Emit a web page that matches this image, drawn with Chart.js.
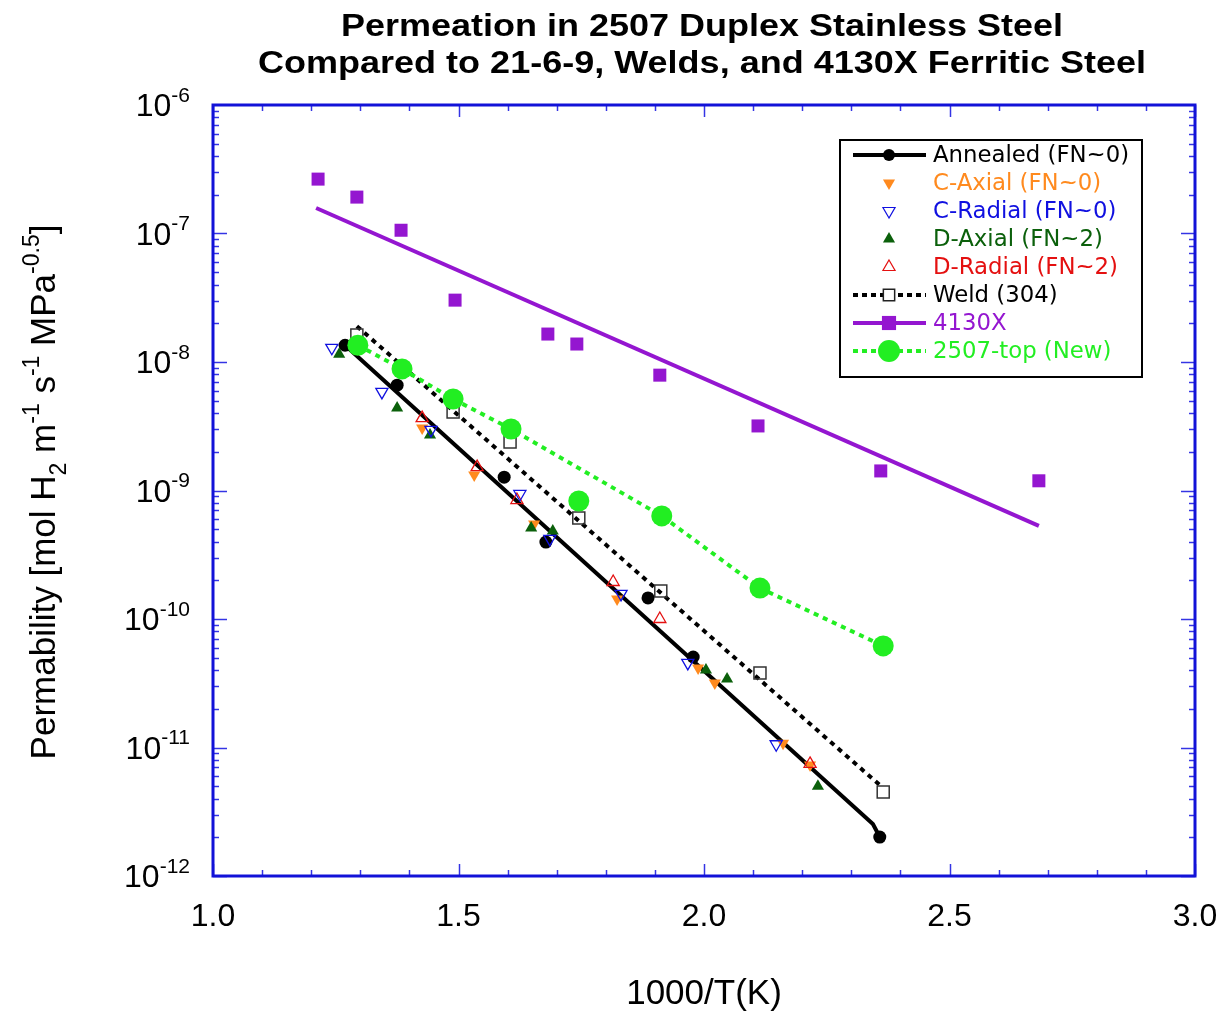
<!DOCTYPE html>
<html>
<head>
<meta charset="utf-8">
<script src="https://cdn.jsdelivr.net/npm/chart.js@4.4.1/dist/chart.umd.min.js"></script>
<style>
  html, body { margin:0; padding:0; background:#fff; }
  #c { display:block; }
</style>
</head>
<body>
<canvas id="c" width="1230" height="1011"></canvas>
<script>
// values (x = 1000/T, y = permeability)
const annealedX = [1.269, 1.375, 1.593, 1.678, 1.886, 1.978, 2.358];
const annealedY = [1.35e-8, 6.6e-9, 1.27e-9, 3.97e-10, 1.46e-10, 5.06e-11, 2.01e-12];
const annealedFitX = [1.269, 2.344, 2.358];
const annealedFitY = [1.35e-8, 2.54e-12, 2.01e-12];

const cAxialX = [1.426, 1.532, 1.654, 1.823, 1.988, 2.022, 2.161, 2.216];
const cAxialY = [3.06e-9, 1.32e-9, 5.48e-10, 1.43e-10, 4.16e-11, 3.18e-11, 1.08e-11, 7.3e-12];

const cRadialX = [1.242, 1.344, 1.444, 1.625, 1.686, 1.831, 1.967, 2.147];
const cRadialY = [1.29e-8, 5.85e-9, 2.96e-9, 9.4e-10, 4.2e-10, 1.57e-10, 4.55e-11, 1.06e-11];

const dAxialX = [1.257, 1.375, 1.442, 1.648, 1.692, 2.004, 2.047, 2.232];
const dAxialY = [1.15e-8, 4.39e-9, 2.70e-9, 5.1e-10, 4.84e-10, 4.01e-11, 3.41e-11, 5.0e-12];

const dRadialX = [1.426, 1.538, 1.619, 1.815, 1.910, 2.216];
const dRadialY = [3.66e-9, 1.52e-9, 8.43e-10, 1.94e-10, 1.0e-10, 7.45e-12];

const weldX = [1.293, 1.489, 1.605, 1.745, 1.912, 2.114, 2.365];
const weldY = [1.62e-8, 4.08e-9, 2.38e-9, 6.1e-10, 1.65e-10, 3.8e-11, 4.5e-12];
const weldFitX = [1.293, 2.358];
const weldFitY = [1.9e-8, 5.1e-12];

const steel4130X = [1.214, 1.293, 1.383, 1.493, 1.682, 1.741, 1.910, 2.110, 2.360, 2.682];
const steel4130Y = [2.65e-7, 1.92e-7, 1.06e-7, 3.03e-8, 1.65e-8, 1.38e-8, 7.9e-9, 3.18e-9, 1.42e-9, 1.19e-9];
const steel4130FitX = [1.210, 2.682];
const steel4130FitY = [1.58e-7, 5.3e-10];

const duplexX = [1.295, 1.385, 1.489, 1.607, 1.745, 1.914, 2.114, 2.365];
const duplexY = [1.35e-8, 8.83e-9, 5.15e-9, 3.01e-9, 8.28e-10, 6.34e-10, 1.74e-10, 6.17e-11];
const duplexLineX = [1.295, 1.385, 1.489, 1.607, 1.914, 2.114, 2.365];
const duplexLineY = [1.35e-8, 8.83e-9, 5.15e-9, 3.01e-9, 6.34e-10, 1.74e-10, 6.17e-11];

const xTickValues = [1.0, 1.5, 2.0, 2.5, 3.0];
const xTickLabels = ['1.0', '1.5', '2.0', '2.5', '3.0'];
const yDecades = [-6, -7, -8, -9, -10, -11, -12];

const titleLines = ['Permeation in 2507 Duplex Stainless Steel',
                    'Compared to 21-6-9, Welds, and 4130X Ferritic Steel'];

function pts(xs, ys) { return xs.map((x, i) => ({ x: x, y: ys[i] })); }

const BLUE_AXIS = '#1212d8';
const ORANGE = '#ff8a1e', CBLUE = '#1010e0', DGREEN = '#0b600b', RED = '#e41010';
const PURPLE = '#9416d0', LGREEN = '#22ee22';

const datasets = [
  // lines (bottom)
  { label:'4130X fit', data: pts(steel4130FitX, steel4130FitY), showLine:true, pointRadius:0,
    borderColor:PURPLE, borderWidth:4, order:9 },
  { label:'Annealed fit', data: pts(annealedFitX, annealedFitY), showLine:true, pointRadius:0,
    borderColor:'#000', borderWidth:4, order:8 },
  { label:'Weld fit', data: pts(weldFitX, weldFitY), showLine:true, pointRadius:0,
    borderColor:'#000', borderWidth:4, borderDash:[5,5], order:7 },
  { label:'2507 line', data: pts(duplexLineX, duplexLineY), showLine:true, pointRadius:0,
    borderColor:LGREEN, borderWidth:4, borderDash:[5,5], order:6 },
  // markers
  { label:'4130X', data: pts(steel4130X, steel4130Y), pointStyle:'rect', pointRadius:9.2,
    backgroundColor:PURPLE, borderColor:PURPLE, borderWidth:0, order:5 },
  { label:'Weld (304)', data: pts(weldX, weldY), pointStyle:'rect', pointRadius:8.5,
    backgroundColor:'rgba(0,0,0,0)', borderColor:'#333', borderWidth:1.5, order:5 },
  { label:'Annealed (FN~0)', data: pts(annealedX, annealedY), pointStyle:'circle', pointRadius:6.5,
    backgroundColor:'#000', borderColor:'#000', borderWidth:0, order:4 },
  { label:'D-Axial (FN~2)', data: pts(dAxialX, dAxialY), pointStyle:'triangle', pointRadius:7,
    backgroundColor:DGREEN, borderColor:DGREEN, borderWidth:0, order:3 },
  { label:'C-Axial (FN~0)', data: pts(cAxialX, cAxialY), pointStyle:'triangle', pointRotation:180, pointRadius:7,
    backgroundColor:ORANGE, borderColor:ORANGE, borderWidth:0, order:3 },
  { label:'C-Radial (FN~0)', data: pts(cRadialX, cRadialY), pointStyle:'triangle', pointRotation:180, pointRadius:7,
    backgroundColor:'rgba(0,0,0,0)', borderColor:CBLUE, borderWidth:1.3, order:2 },
  { label:'D-Radial (FN~2)', data: pts(dRadialX, dRadialY), pointStyle:'triangle', pointRadius:7,
    backgroundColor:'rgba(0,0,0,0)', borderColor:RED, borderWidth:1.3, order:2 },
  { label:'2507-top (New)', data: pts(duplexX, duplexY), pointStyle:'circle', pointRadius:10.5,
    backgroundColor:LGREEN, borderColor:LGREEN, borderWidth:0, order:1 }
];

// legend rows: label, text colour, sample line, marker
const legendRows = [
  { text:'Annealed (FN~0)', color:'#000', line:'#000', dash:[], mk:'circle', rot:0, r:6, fill:'#000', stroke:'#000', bw:0 },
  { text:'C-Axial (FN~0)', color:ORANGE, line:null, mk:'triangle', rot:180, r:7, fill:ORANGE, stroke:ORANGE, bw:0 },
  { text:'C-Radial (FN~0)', color:CBLUE, line:null, mk:'triangle', rot:180, r:7, fill:'rgba(0,0,0,0)', stroke:CBLUE, bw:1.2 },
  { text:'D-Axial (FN~2)', color:DGREEN, line:null, mk:'triangle', rot:0, r:7, fill:DGREEN, stroke:DGREEN, bw:0 },
  { text:'D-Radial (FN~2)', color:RED, line:null, mk:'triangle', rot:0, r:7, fill:'rgba(0,0,0,0)', stroke:RED, bw:1.2 },
  { text:'Weld (304)', color:'#000', line:'#000', dash:[5,4], mk:'rect', rot:0, r:8, fill:'#fff', stroke:'#222', bw:1.5 },
  { text:'4130X', color:PURPLE, line:PURPLE, dash:[], mk:'rect', rot:0, r:10, fill:PURPLE, stroke:PURPLE, bw:0 },
  { text:'2507-top (New)', color:LGREEN, line:LGREEN, dash:[5,4], mk:'circle', rot:0, r:11, fill:LGREEN, stroke:LGREEN, bw:0 }
];

function seg(ctx, x1, y1, x2, y2) {
  ctx.beginPath(); ctx.moveTo(x1, y1); ctx.lineTo(x2, y2); ctx.stroke();
}

// draws a string made of [text, kind] parts; kind: 0 normal, 1 super, -1 sub
function richText(ctx, parts, x, y, size, supSize, font) {
  let cx = x;
  parts.forEach(function(p) {
    const small = p[1] !== 0;
    ctx.font = (small ? supSize : size) + 'px ' + font;
    const dy = p[1] === 1 ? -size * 0.45 : (p[1] === -1 ? size * 0.3 : 0);
    ctx.fillText(p[0], cx, y + dy);
    cx += ctx.measureText(p[0]).width;
  });
  return cx - x;
}
function richWidth(ctx, parts, size, supSize, font) {
  let w = 0;
  parts.forEach(function(p) {
    ctx.font = (p[1] !== 0 ? supSize : size) + 'px ' + font;
    w += ctx.measureText(p[0]).width;
  });
  return w;
}

const framePlugin = {
  id: 'frame',
  afterDraw(chart) {
    const ctx = chart.ctx, a = chart.chartArea;
    const xs = chart.scales.x, ys = chart.scales.y;
    const font = '"Liberation Sans", Arial, Helvetica, sans-serif';
    ctx.save();

    // ticks on all four sides
    ctx.strokeStyle = '#3434e4';
    ctx.lineWidth = 1.5;
    for (let i = 0; i <= 20; i++) {
      const v = 1 + i * 0.1;
      const px = Math.round(xs.getPixelForValue(v)) + 0.5;
      const len = i % 5 === 0 ? 12 : 6;
      seg(ctx, px, a.bottom, px, a.bottom - len);
      seg(ctx, px, a.top, px, a.top + len);
    }
    for (let d = -12; d < -6; d++) {
      for (let m = 1; m <= 9; m++) {
        const v = m * Math.pow(10, d);
        const py = Math.round(ys.getPixelForValue(v)) + 0.5;
        const len = m === 1 ? 14 : 6;
        seg(ctx, a.left, py, a.left + len, py);
        seg(ctx, a.right, py, a.right - len, py);
      }
    }

    // frame
    ctx.strokeStyle = BLUE_AXIS;
    ctx.lineWidth = 3;
    ctx.strokeRect(a.left, a.top, a.right - a.left, a.bottom - a.top);

    // x tick labels
    ctx.fillStyle = '#000';
    ctx.font = '32px ' + font;
    ctx.textAlign = 'center';
    ctx.textBaseline = 'alphabetic';
    xTickValues.forEach(function(v, i) {
      ctx.fillText(xTickLabels[i], xs.getPixelForValue(v), a.bottom + 50);
    });

    // y tick labels 10^n
    ctx.textAlign = 'left';
    yDecades.forEach(function(d) {
      const py = ys.getPixelForValue(Math.pow(10, d));
      const parts = [['10', 0], [String(d), 1]];
      const w = richWidth(ctx, parts, 32, 21, font);
      richText(ctx, parts, 190 - w, py + 11, 32, 21, font);
    });

    // x axis title
    ctx.font = '35px ' + font;
    ctx.textAlign = 'center';
    ctx.fillText('1000/T(K)', (a.left + a.right) / 2, 1004);

    // y axis title, rotated
    const yParts = [['Permability [mol H', 0], ['2', -1], [' m', 0], ['-1', 1], [' s', 0], ['-1', 1],
                    [' MPa', 0], ['-0.5', 1], [']', 0]];
    ctx.textAlign = 'left';
    const yw = richWidth(ctx, yParts, 35, 23, font);
    ctx.save();
    ctx.translate(55, 492);
    ctx.rotate(-Math.PI / 2);
    richText(ctx, yParts, -yw / 2, 0, 35, 23, font);
    ctx.restore();

    // title, squeezed to the reference widths
    ctx.font = 'bold 32px ' + font;
    ctx.textAlign = 'center';
    const titleW = [722, 888], titleBase = [36, 73];
    titleLines.forEach(function(t, i) {
      const w = ctx.measureText(t).width;
      ctx.save();
      ctx.translate(702, titleBase[i]);
      ctx.scale(titleW[i] / w, 1);
      ctx.fillText(t, 0, 0);
      ctx.restore();
    });

    // legend
    const lx = 840, ly = 140, lw = 302, lh = 237;
    const legendFont = '22.8px "DejaVu Sans", Verdana, sans-serif';
    ctx.fillStyle = '#fff';
    ctx.fillRect(lx, ly, lw, lh);
    ctx.strokeStyle = '#000';
    ctx.lineWidth = 2;
    ctx.strokeRect(lx, ly, lw, lh);
    ctx.textAlign = 'left';
    ctx.textBaseline = 'middle';
    legendRows.forEach(function(r, i) {
      const ry = 155 + i * 28;
      if (r.line) {
        ctx.strokeStyle = r.line;
        ctx.lineWidth = 4;
        ctx.setLineDash(r.dash);
        seg(ctx, 853, ry, 926, ry);
        ctx.setLineDash([]);
      }
      ctx.fillStyle = r.fill;
      ctx.strokeStyle = r.stroke;
      ctx.lineWidth = r.bw;
      Chart.helpers.drawPoint(ctx, { pointStyle: r.mk, rotation: r.rot, radius: r.r, borderWidth: r.bw }, 889, ry);
      ctx.fillStyle = r.color;
      ctx.font = legendFont;
      ctx.fillText(r.text, 933, ry + 1);
    });

    ctx.restore();
  }
};

new Chart(document.getElementById('c').getContext('2d'), {
  type: 'scatter',
  data: { datasets: datasets },
  options: {
    responsive: false,
    animation: false,
    devicePixelRatio: 1,
    layout: { padding: { left: 213, top: 105, right: 35, bottom: 135 } },
    elements: { line: { tension: 0 } },
    scales: {
      x: { type: 'linear', min: 1, max: 3, display: false },
      y: { type: 'logarithmic', min: 1e-12, max: 1e-6, display: false }
    },
    plugins: {
      legend: { display: false },
      tooltip: { enabled: false },
      title: { display: false }
    }
  },
  plugins: [framePlugin]
});
</script>
</body>
</html>
